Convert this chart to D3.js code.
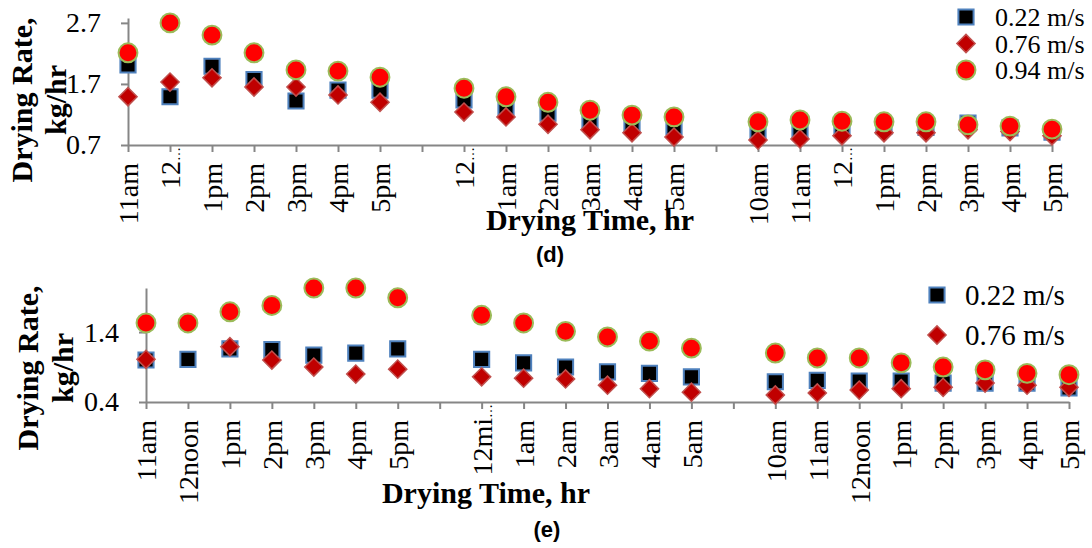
<!DOCTYPE html>
<html>
<head>
<meta charset="utf-8">
<script src="https://cdn.jsdelivr.net/npm/d3@7"></script>
<style>
  body { margin: 0; background: #fff; }
  svg { display: block; }
  .axis path, .axis line { stroke: #868686; stroke-width: 2; }
</style>
</head>
<body>
<div id="chart"></div>
<script>
// category labels (blank = gap between days)
let catsD = ["11am", "12\u2026", "1pm", "2pm", "3pm", "4pm", "5pm", "", "12\u2026", "1am", "2am", "3am", "4am", "5am", "",
    "10am", "11am", "12\u2026", "1pm", "2pm", "3pm", "4pm", "5pm"];
let catsE = ["11am", "12noon", "1pm", "2pm", "3pm", "4pm", "5pm", "", "12mi\u2026", "1am", "2am", "3am", "4am", "5am", "",
    "10am", "11am", "12noon", "1pm", "2pm", "3pm", "4pm", "5pm"];

// panel (d) drying rates, kg/hr
let d022 = [2.01, 1.49, 1.99, 1.77, 1.42, 1.60, 1.60, null, 1.44, 1.32, 1.22, 1.11, 1.03, 1.00, null,
    0.91, 0.95, 0.98, 1.01, 0.99, 1.06, 0.98, 0.91];
let d076 = [1.49, 1.73, 1.80, 1.65, 1.65, 1.52, 1.40, null, 1.24, 1.16, 1.04, 0.95, 0.90, 0.83, null,
    0.78, 0.80, 0.85, 0.90, 0.90, 0.95, 0.92, 0.85];
let d094 = [2.21, 2.70, 2.50, 2.21, 1.93, 1.91, 1.81, null, 1.63, 1.49, 1.40, 1.27, 1.19, 1.16, null,
    1.08, 1.11, 1.09, 1.08, 1.08, 1.03, 1.01, 0.96];

// panel (e) drying rates, kg/hr
let e022 = [1.00, 1.01, 1.16, 1.15, 1.07, 1.10, 1.16, null, 1.01, 0.96, 0.90, 0.83, 0.81, 0.76, null,
    0.69, 0.71, 0.70, 0.70, 0.67, 0.67, 0.67, 0.60];
let e076 = [1.01, null, 1.19, 1.00, 0.90, 0.80, 0.87, null, 0.76, 0.74, 0.73, 0.64, 0.59, 0.54, null,
    0.50, 0.53, 0.57, 0.59, 0.61, 0.67, 0.64, 0.61];
let e094 = [1.53, 1.53, 1.69, 1.78, 2.03, 2.03, 1.89, null, 1.64, 1.53, 1.41, 1.33, 1.27, 1.17, null,
    1.10, 1.03, 1.03, 0.96, 0.90, 0.86, 0.81, 0.79];

let seriesNames = ["0.22 m/s", "0.76 m/s", "0.94 m/s"];
let yTicksD = [0.7, 1.7, 2.7];
let yTicksE = [0.4, 1.4];

let serif = "Liberation Serif";

let svg = d3.select("#chart")
    .append("svg")
    .attr("width", 1092)
    .attr("height", 548);

// marker styles for the three series (diamond = square turned 45deg)
let markers = [
    { shape: d3.symbolSquare, size: 230, rot: 0, fill: "#000000", stroke: "#4F81BD", sw: 2 },
    { shape: d3.symbolSquare, size: 165, rot: 45, fill: "#C00000", stroke: "#C0504D", sw: 1.5 },
    { shape: d3.symbolCircle, size: 280, rot: 0, fill: "#FF0000", stroke: "#9BBB59", sw: 2 }
];

function drawPanel(p) {
    let g = svg.append("g");

    let x = d3.scalePoint()
        .domain(d3.range(p.cats.length))
        .range([p.x0, p.x1]);

    let y = d3.scaleLinear()
        .domain(p.yDomain)
        .range([p.yBottom, p.yTop]);

    // x axis with rotated labels
    let xAxis = g.append("g")
        .attr("class", "axis")
        .attr("transform", `translate(0, ${p.yBottom})`)
        .call(d3.axisBottom(x).tickSizeInner(7).tickSizeOuter(0).tickFormat(i => p.cats[i]))
        .attr("font-family", serif)
        .attr("font-size", 28);

    xAxis.selectAll("text")
        .attr("fill", "#000")
        .attr("transform", "rotate(-90)")
        .attr("text-anchor", "end")
        .attr("x", -18)
        .attr("y", 0)
        .attr("dy", "0.35em");

    // truncated labels: small dots right under the axis, like the excel export
    xAxis.selectAll("text")
        .filter(i => p.cats[i].endsWith("\u2026"))
        .each(function (i) {
            let t = d3.select(this).text("").attr("x", -2);
            t.append("tspan").text(p.cats[i].slice(0, -1));
            t.append("tspan").attr("font-size", 14).text("\u2026");
        });

    // y axis
    g.append("g")
        .attr("class", "axis")
        .attr("transform", `translate(${p.x0}, 0)`)
        .call(d3.axisLeft(y).tickValues(p.yTicks).tickSizeInner(7).tickSizeOuter(0)
            .tickPadding(20).tickFormat(d3.format(".1f")))
        .attr("font-family", serif)
        .attr("font-size", 28)
        .selectAll("text").attr("fill", "#000");

    // points, one group per series
    p.series.forEach(function (vals, s) {
        let m = markers[s];
        g.append("g").selectAll("path")
            .data(vals.map((v, i) => ({ i: i, v: v })).filter(d => d.v !== null))
            .enter()
            .append("path")
            .attr("d", d3.symbol().type(m.shape).size(m.size))
            .attr("transform", d => `translate(${x(d.i)}, ${y(d.v)}) rotate(${m.rot})`)
            .attr("fill", m.fill)
            .attr("stroke", m.stroke)
            .attr("stroke-width", m.sw);
    });

    // y axis title (two lines)
    let yt = g.append("text")
        .attr("transform", `translate(0, ${p.ytY}) rotate(-90)`)
        .attr("text-anchor", "middle")
        .attr("font-family", serif)
        .attr("font-weight", "bold")
        .attr("font-size", 30);
    yt.append("tspan").attr("x", 0).attr("y", p.ytX1).text("Drying Rate,");
    yt.append("tspan").attr("x", 0).attr("y", p.ytX2).text("kg/hr");

    // x axis title
    g.append("text")
        .attr("x", p.xtX)
        .attr("y", p.xtY)
        .attr("text-anchor", "middle")
        .attr("font-family", serif)
        .attr("font-weight", "bold")
        .attr("font-size", 30)
        .text("Drying Time, hr");

    // panel letter
    g.append("text")
        .attr("x", p.tagX)
        .attr("y", p.tagY)
        .attr("text-anchor", "middle")
        .attr("font-family", "Liberation Sans")
        .attr("font-weight", "bold")
        .attr("font-size", 22)
        .text(p.tag);

    // legend
    let lg = g.append("g");
    p.series.forEach(function (vals, s) {
        if (s >= p.legendCount) return;
        let m = markers[s];
        let ly = p.legY + s * p.legStep;
        lg.append("path")
            .attr("d", d3.symbol().type(m.shape).size(m.size))
            .attr("transform", `translate(${p.legX}, ${ly}) rotate(${m.rot})`)
            .attr("fill", m.fill)
            .attr("stroke", m.stroke)
            .attr("stroke-width", m.sw);
        lg.append("text")
            .attr("x", p.legX + p.legGap)
            .attr("y", ly)
            .attr("dy", "0.35em")
            .attr("font-family", serif)
            .attr("font-size", p.legFont)
            .text(seriesNames[s]);
    });
}

drawPanel({
    cats: catsD, series: [d022, d076, d094],
    x0: 128, x1: 1052, yBottom: 145, yTop: 18, yDomain: [0.7, 2.78], yTicks: yTicksD,
    ytY: 100, ytX1: 32, ytX2: 66,
    xtX: 590, xtY: 230, tag: "(d)", tagX: 550, tagY: 262,
    legendCount: 3, legX: 966, legY: 17, legStep: 26.5, legGap: 29, legFont: 26
});

drawPanel({
    cats: catsE, series: [e022, e076, e094],
    x0: 146, x1: 1069, yBottom: 402, yTop: 288, yDomain: [0.4, 2.03], yTicks: yTicksE,
    ytY: 368, ytX1: 38, ytX2: 73,
    xtX: 486, xtY: 503, tag: "(e)", tagX: 547, tagY: 537,
    legendCount: 2, legX: 937, legY: 295, legStep: 40, legGap: 28, legFont: 29
});
</script>
</body>
</html>
